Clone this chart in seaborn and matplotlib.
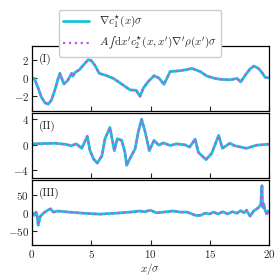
"""Vergleich der Einkörper-Korrelation mit dem Integral über c2 (drei Systeme)."""

import matplotlib
matplotlib.use("Agg")
import matplotlib.pyplot as plt
import matplotlib.ticker as mticker
import seaborn as sns
import numpy as np

sns.set_theme(style="ticks")
plt.rcParams["font.family"] = "serif"
plt.rcParams["font.serif"] = ["cmr10"]
plt.rcParams["mathtext.fontset"] = "cm"
plt.rcParams["axes.formatter.use_mathtext"] = True
plt.rcParams["axes.unicode_minus"] = True

# Panel I
x1 = [0.0, 0.2, 0.5, 0.8, 1.1, 1.38, 1.65, 1.94, 2.2, 2.36, 2.5, 2.7, 3.0, 3.35, 3.45, 3.63,
      4.0, 4.4, 4.75, 5.0, 5.3, 5.68, 6.2, 6.86, 7.5, 8.27, 8.8, 9.11, 9.4, 9.8, 10.3,
      10.7, 11.14, 11.65, 12.5, 13.0, 13.48, 14.2, 14.74, 15.3, 15.86, 16.7, 17.3, 17.6,
      18.1, 18.4, 18.73, 19.1, 19.4, 19.66, 20.0]
y1 = [0.0, -0.05, -1.0, -2.1, -2.7, -2.86, -2.4, -1.3, -0.1, 0.5, 0.0, -0.65, -0.3, 0.5, 0.2, 0.6,
      0.9, 1.5, 2.0, 1.9, 1.4, 0.5, 0.3, -0.04, -0.6, -1.3, -1.35, -2.0, -1.1, -0.4, 0.25,
      0.0, -0.69, 0.69, 0.8, 0.9, 1.05, 0.7, 0.22, 0.0, -0.14, -0.2, -0.05, -0.43,
      0.5, 1.0, 1.3, 1.05, 0.6, 0.08, 0.0]

# Panel II
x2 = [0.0, 1.0, 2.0, 2.93, 3.3, 3.75, 4.2, 4.67, 4.9, 5.2, 5.51, 5.9, 6.16, 6.58, 6.95,
      7.2, 7.57, 7.85, 7.99, 8.27, 8.7, 8.97, 9.25, 9.55, 9.9, 10.3, 10.7, 11.1, 11.65,
      12.2, 12.9, 13.3, 13.76, 14.04, 14.68, 15.16, 15.75, 16.06, 16.7, 17.1, 17.6,
      18.1, 18.96, 20.0]
y2 = [0.1, 0.15, 0.2, 0.0, -0.2, 0.1, -0.6, 1.3, -0.97, -2.3, -2.95, -1.8, 0.9, 2.7, -0.97,
      0.92, 0.65, -1.3, -3.3, -2.2, -0.7, 2.0, 4.0, 2.0, -0.97, 0.65, -0.1, 0.26, -0.16,
      0.1, -0.05, -0.4, 0.85, -1.25, -2.4, -1.4, 1.45, -0.6, 0.2, -0.2, -0.4,
      -0.6, -0.1, 0.05]

# Panel III
x3 = [0.0, 0.06, 0.2, 0.35, 0.45, 0.53, 0.7, 1.0, 1.38, 1.58, 1.8, 2.2, 2.9, 4.3, 5.7,
      7.1, 8.5, 9.1, 9.5, 10.0, 10.5, 11.1, 11.9, 12.5, 13.1, 13.8, 14.2, 14.6, 15.0,
      15.3, 15.7, 16.1, 16.5, 16.9, 17.3, 17.6, 17.9, 18.1, 18.4, 18.7, 19.1, 19.3,
      19.4, 19.45, 19.55, 19.65, 19.8, 19.9, 20.0]
y3 = [2.0, -1.0, -7.0, 2.0, -10.0, -34.0, -10.0, 0.0, 8.0, 11.0, 2.0, 5.0, 2.6, -0.9, -3.6,
      -0.9, 2.7, 5.0, 3.0, 7.0, 0.0, 2.0, 5.0, 2.0, 2.0, -7.0, -7.0, -1.0, -3.0,
      2.0, -3.0, 3.0, -3.0, 3.0, -1.0, 6.0, 0.0, 7.0, -9.0, 5.0, 14.0, 23.0,
      74.0, 15.0, 25.0, 8.0, -3.0, 5.0, 0.0]

panels = [(x1, y1, "(I)", (-3.6, 3.5), [-2, 0, 2]),
          (x2, y2, "(II)", (-5.3, 5.0), [-4, 0, 4]),
          (x3, y3, "(III)", (-88, 90), [-50, 0, 50])]

cyan = "#17c3d6"
violet = "#c159e0"

fig, axes = plt.subplots(3, 1, figsize=(2.8, 2.8), dpi=100, sharex=True)
fig.subplots_adjust(left=0.114, right=0.961, top=0.836, bottom=0.125, hspace=0.03)

for ax, (xs, ys, tag, ylim, yticks) in zip(axes, panels):
    sns.lineplot(x=xs, y=ys, ax=ax, color=cyan, linewidth=2.0,
                 label=r"$\nabla c_1^{\star}(x)\sigma$")
    sns.lineplot(x=xs, y=ys, ax=ax, color=violet, linewidth=1.6, linestyle=":",
                 label="$A\\,\u222b\\mathrm{d}x'c_2^{\\star}(x,x')\\nabla'\\rho(x')\\sigma$")
    ax.get_legend().remove()
    ax.set_xlim(0, 20)
    ax.set_ylim(*ylim)
    ax.set_yticks(yticks)
    ax.xaxis.set_major_locator(mticker.MultipleLocator(5))
    ax.tick_params(direction="in", length=3.5, width=0.8, labelsize=8, pad=2)
    for sp in ax.spines.values():
        sp.set_linewidth(0.9)
        sp.set_color("black")
    ax.text(0.03, 0.80, tag, transform=ax.transAxes, fontsize=8, va="center", ha="left")

axes[-1].set_xlabel(r"$x/\sigma$", fontsize=8, labelpad=1)

handles, labels = axes[0].get_legend_handles_labels()
leg = fig.legend(handles, labels, loc="upper center", bbox_to_anchor=(0.5, 0.985),
                 fontsize=8, frameon=True, fancybox=True, edgecolor="#cccccc",
                 framealpha=1.0, handlelength=2.3, borderpad=0.4, labelspacing=0.45,
                 handletextpad=0.9)
leg.set_zorder(10)

fig.savefig("out.png", dpi=100)
